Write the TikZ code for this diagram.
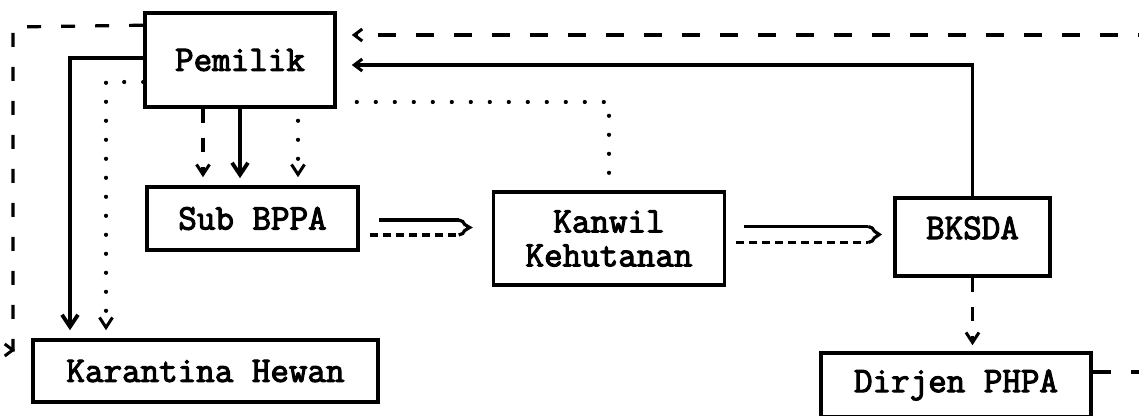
\documentclass[tikz,border=0pt]{standalone}
\usepackage{fontspec}
\newfontfamily\boxfont{Latin Modern Mono}[FakeBold=3]
\usetikzlibrary{arrows.meta,calc}
\begin{document}
\begin{tikzpicture}[x=1pt,y=-1pt,
  box/.style={draw, line width=3.6pt, inner sep=0pt, align=center,
    font=\boxfont\fontsize{36}{34}\selectfont},
  lbl/.style={inner sep=0pt, font=\boxfont\fontsize{36}{34}\selectfont},
  conn/.style={line width=3.2pt},
  bigdash/.style={dash pattern=on 18pt off 20pt},
  leftdash/.style={dash pattern=on 14pt off 20pt},
  middash/.style={dash pattern=on 14pt off 15pt},
  smalldash/.style={dash pattern=on 8pt off 5pt},
  dotline/.style={line width=4.2pt, line cap=round, dash pattern=on 0pt off 19pt},
  vtip/.style={-{Straight Barb[length=10pt,width=13pt,line width=3pt]}},
  bigtip/.style={-{Straight Barb[length=12pt,width=16pt,line width=3.8pt]}},
  ltip/.style={-{Straight Barb[length=8pt,width=12pt,line width=3pt]}},
  brace/.style={line width=3.2pt, line join=miter},
]
\useasboundingbox (0,0) rectangle (1139,415);

% boxes
\node[box, minimum width=190, minimum height=94] (pem) at (240,60) {Pemilik};
\node[box, minimum width=211, minimum height=63] (sub) at (252.5,218.5) {Sub BPPA};
\node[box, minimum width=231, minimum height=93] (kan) at (609,238.5) {Kanwil\\Kehutanan};
\node[box, minimum width=155, minimum height=78] (bks) at (972.5,237) {};
\node[lbl] (bkst) at (972.5,228) {BKSDA};
\node[box, minimum width=270, minimum height=64] (dir) at (956,385) {Dirjen PHPA};
\node[box, minimum width=345, minimum height=62] (kar) at (205.5,371) {Karantina Hewan};

% top dashed feedback from Dirjen PHPA to Pemilik
\draw[conn,bigdash,ltip] ($(dir.east)+(0,-13)$) -- (1165,372) -- (1165,35) -- ($(pem.east)+(15,-25)$);
% solid from BKSDA to Pemilik
\draw[conn,ltip] (bks.north) -- (bks.north |- 0,65) -- ($(pem.east)+(15,5)$);
% dotted from Pemilik to Kanwil
\draw[dotline] ($(pem.east)+(20,42)$) -| (kan.north);

% Pemilik -> Sub BPPA
\draw[conn,middash,vtip,shorten >=8pt] (pem.south -| 203,0) -- (sub.north -| 203,0);
\draw[conn,bigtip,shorten >=7pt] (pem.south) -- (pem.south |- sub.north);
\draw[dotline,vtip,shorten >=8pt] ($(pem.south -| 298,0)+(0,12)$) -- (sub.north -| 298,0);

% Pemilik -> Karantina Hewan
\draw[conn,bigtip,shorten >=8pt] ($(pem.west)+(0,-2)$) -- (70,58) -- (70,0 |- kar.north);
\draw[dotline,vtip,shorten >=8pt] ($(pem.west)+(0,22)$) -- (106,82) -- (106,0 |- kar.north);

% left dashed from Pemilik to Karantina Hewan
\draw[conn,leftdash,ltip] ($(pem.north west)+(0,14)$) -- (13,27) -- (13,350) -- ($(kar.west)+(-16,-21)$);

% Sub BPPA -> Kanwil (double)
\draw[conn] ($(sub.east)+(19,1.5)$) -- ($(kan.west)+(-33,-18.5)$);
\draw[conn,smalldash] ($(sub.east)+(10,16.5)$) -- ($(kan.west)+(-33,-3.5)$);
\draw[brace] ($(kan.west)+(-33,-18.5)$) -- ($(kan.west)+(-29,-17)$) -- ($(kan.west)+(-27,-14)$)
  -- ($(kan.west)+(-22,-11)$) -- ($(kan.west)+(-27,-8)$) -- ($(kan.west)+(-29,-5)$)
  -- ($(kan.west)+(-33,-3.5)$);

% Kanwil -> BKSDA (double)
\draw[conn] ($(kan.east)+(18,-12)$) -- ($(bks.west)+(-25,-10.5)$);
\draw[conn,smalldash] ($(kan.east)+(10,4)$) -- ($(bks.west)+(-25,5.5)$);
\draw[brace] ($(bks.west)+(-25,-10.5)$) -- ($(bks.west)+(-21,-9)$) -- ($(bks.west)+(-19,-6)$)
  -- ($(bks.west)+(-14,-2.5)$) -- ($(bks.west)+(-19,1)$) -- ($(bks.west)+(-21,4)$)
  -- ($(bks.west)+(-25,5.5)$);

% BKSDA -> Dirjen PHPA
\draw[conn,middash,vtip,shorten >=6pt] (bks.south) -- (bks.south |- dir.north);
\end{tikzpicture}
\end{document}
